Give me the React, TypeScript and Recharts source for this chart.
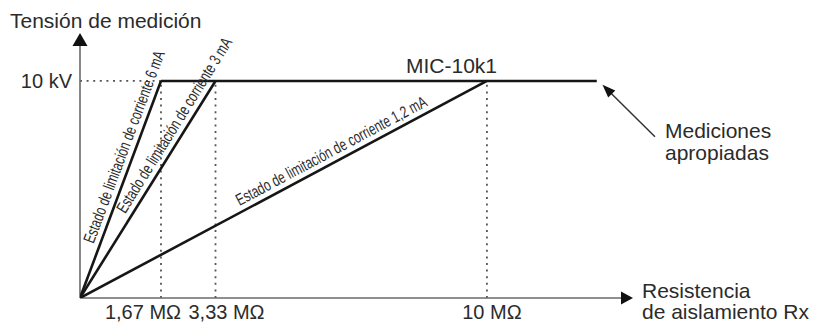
import React from 'react';
import { LineChart, Line, XAxis, YAxis, ReferenceLine, ReferenceDot } from 'recharts';

// ---- data (MΩ on x, kV on y) ----
const X_TICK_VALUES = [1.99, 3.33, 10];
const X_TICK_LABELS = ['1,67 MΩ', '3,33 MΩ', '10 MΩ'];
const Y_TICK_VALUES = [10];
const Y_TICK_LABELS = ['10 kV'];
const X_AXIS_MAX = 13.59;
const Y_AXIS_MAX = 12.21;

const LINE_6MA = [{ x: 0, y: 0 }, { x: 1.99, y: 10 }];
const LINE_3MA = [{ x: 0, y: 0 }, { x: 3.33, y: 10 }];
const LINE_1_2MA = [{ x: 0, y: 0 }, { x: 10, y: 10 }];
const LINE_MIC = [{ x: 1.99, y: 10 }, { x: 12.7, y: 10 }];

const SERIES_LABELS = [
  'Estado de limitación de corriente 6 mA',
  'Estado de limitación de corriente 3 mA',
  'Estado de limitación de corriente 1,2 mA',
];
const MIC_LABEL = 'MIC-10k1';
const MIC_LABEL_X = 9.13;
const NOTE_TEXT = ['Mediciones', 'apropiadas'];
const NOTE_ARROW = [{ x: 14.13, y: 7.43 }, { x: 12.84, y: 9.82 }];
const Y_TITLE = 'Tensión de medición';
const X_TITLE = ['Resistencia', 'de aislamiento Rx'];

// ---- styles ----
const FONT = '"Liberation Sans", Arial, Helvetica, sans-serif';
const TEXT_COLOR = '#2b2b2b';
const LINE_COLOR = '#161616';
const AXIS_COLOR = '#6a6a6a';
const DOT_COLOR = '#555555';
const SLOPE_LABEL_LAYOUT = [
  { start: 55, perp: 6, len: 204 },
  { start: 95, perp: 6, len: 203 },
  { start: 184, perp: 6, len: 214 },
];
const X_TICK_DX = [-18, 11, 5];

const arrowShape = (opts: { color: string; width: number; headLen: number; headW: number; headColor: string }) =>
  (p: any) => {
    const { x1, y1, x2, y2 } = p;
    const dx = x2 - x1, dy = y2 - y1;
    const L = Math.hypot(dx, dy) || 1;
    const ux = dx / L, uy = dy / L;
    const bx = x2 - ux * opts.headLen, by = y2 - uy * opts.headLen;
    const nx = -uy, ny = ux;
    const h = opts.headW / 2;
    return (
      <g>
        <line x1={x1} y1={y1} x2={bx + ux * 1} y2={by + uy * 1} stroke={opts.color} strokeWidth={opts.width} />
        <polygon
          points={`${x2},${y2} ${bx + nx * h},${by + ny * h} ${bx - nx * h},${by - ny * h}`}
          fill={opts.headColor}
        />
      </g>
    );
  };

const slopeLabelShape = (text: string, layout: { start: number; perp: number; len: number }) => (p: any) => {
  const { x1, y1, x2, y2 } = p;
  const ang = (Math.atan2(y2 - y1, x2 - x1) * 180) / Math.PI;
  return (
    <g transform={`translate(${x1},${y1}) rotate(${ang})`}>
      <text
        x={layout.start}
        y={-layout.perp}
        fontFamily={FONT}
        fontSize={16.5}
        fill={TEXT_COLOR}
        textLength={layout.len}
        lengthAdjust="spacingAndGlyphs"
      >
        {text}
      </text>
    </g>
  );
};

const renderXTick = (props: any) => {
  const { x, y, payload } = props;
  const i = X_TICK_VALUES.indexOf(payload.value);
  return (
    <text x={x + (X_TICK_DX[i] || 0)} y={y + 21} textAnchor="middle" fontFamily={FONT} fontSize={20} fill={TEXT_COLOR}>
      {X_TICK_LABELS[i]}
    </text>
  );
};

const renderYTick = (props: any) => {
  const { x, y, payload } = props;
  const i = Y_TICK_VALUES.indexOf(payload.value);
  return (
    <text x={x - 8} y={y + 7} textAnchor="end" fontFamily={FONT} fontSize={20} fill={TEXT_COLOR}>
      {Y_TICK_LABELS[i]}
    </text>
  );
};

export default function App() {
  const dotted = { stroke: DOT_COLOR, strokeWidth: 1.8, strokeDasharray: '2 4.6', ifOverflow: 'visible' as const };
  return (
    <div style={{ position: 'absolute', left: 0, top: 0, background: '#fff' }}>
      <LineChart width={815} height={323} margin={{ top: 33, right: 182, bottom: 0, left: 0 }}>
        <XAxis
          type="number"
          dataKey="x"
          domain={[0, X_AXIS_MAX]}
          ticks={X_TICK_VALUES}
          height={25}
          axisLine={false}
          tickLine={false}
          tickSize={0}
          tickMargin={0}
          tick={renderXTick}
          interval={0}
          allowDataOverflow
        />
        <YAxis
          type="number"
          dataKey="y"
          domain={[0, Y_AXIS_MAX]}
          ticks={Y_TICK_VALUES}
          width={80}
          axisLine={false}
          tickLine={false}
          tickSize={0}
          tickMargin={0}
          tick={renderYTick}
          interval={0}
          allowDataOverflow
        />

        {/* dotted guides */}
        <ReferenceLine segment={[{ x: 0, y: 10 }, { x: X_TICK_VALUES[0], y: 10 }]} {...dotted} />
        {X_TICK_VALUES.map((v) => (
          <ReferenceLine key={v} segment={[{ x: v, y: 0 }, { x: v, y: 10 }]} {...dotted} />
        ))}

        {/* axes with arrows */}
        <ReferenceLine
          segment={[{ x: 0, y: 0 }, { x: X_AXIS_MAX, y: 0 }]}
          ifOverflow="visible"
          shape={arrowShape({ color: AXIS_COLOR, width: 1.6, headLen: 12, headW: 13, headColor: '#111' })}
        />
        <ReferenceLine
          segment={[{ x: 0, y: 0 }, { x: 0, y: Y_AXIS_MAX }]}
          ifOverflow="visible"
          shape={arrowShape({ color: AXIS_COLOR, width: 1.6, headLen: 13, headW: 15, headColor: '#111' })}
        />

        {/* series */}
        <Line data={LINE_6MA} dataKey="y" stroke={LINE_COLOR} strokeWidth={2.6} dot={false} isAnimationActive={false} />
        <Line data={LINE_3MA} dataKey="y" stroke={LINE_COLOR} strokeWidth={2.6} dot={false} isAnimationActive={false} />
        <Line data={LINE_1_2MA} dataKey="y" stroke={LINE_COLOR} strokeWidth={2.6} dot={false} isAnimationActive={false} />
        <Line data={LINE_MIC} dataKey="y" stroke={LINE_COLOR} strokeWidth={2.6} dot={false} isAnimationActive={false} />

        {/* slanted labels */}
        {[LINE_6MA, LINE_3MA, LINE_1_2MA].map((d, i) => (
          <ReferenceLine
            key={'lbl' + i}
            segment={[d[0], d[1]]}
            ifOverflow="visible"
            shape={slopeLabelShape(SERIES_LABELS[i], SLOPE_LABEL_LAYOUT[i])}
          />
        ))}

        {/* MIC label */}
        <ReferenceDot
          x={MIC_LABEL_X}
          y={10}
          ifOverflow="visible"
          shape={(p: any) => (
            <text x={p.cx} y={p.cy - 8} textAnchor="middle" fontFamily={FONT} fontSize={21} fill={TEXT_COLOR}>
              {MIC_LABEL}
            </text>
          )}
        />

        {/* note arrow + text */}
        <ReferenceLine
          segment={NOTE_ARROW}
          ifOverflow="visible"
          shape={(p: any) => (
            <g>
              {arrowShape({ color: '#333', width: 1.5, headLen: 13, headW: 10, headColor: '#111' })(p)}
              <text x={p.x1 + 10} y={p.y1 + 1} fontFamily={FONT} fontSize={21} fill={TEXT_COLOR}>
                {NOTE_TEXT[0]}
              </text>
              <text x={p.x1 + 10} y={p.y1 + 23} fontFamily={FONT} fontSize={21} fill={TEXT_COLOR}>
                {NOTE_TEXT[1]}
              </text>
            </g>
          )}
        />

        {/* axis titles */}
        <ReferenceDot
          x={X_AXIS_MAX}
          y={0}
          ifOverflow="visible"
          shape={(p: any) => (
            <g>
              <text x={p.cx + 9} y={p.cy} fontFamily={FONT} fontSize={21} fill={TEXT_COLOR}>
                {X_TITLE[0]}
              </text>
              <text x={p.cx + 9} y={p.cy + 21} fontFamily={FONT} fontSize={21} fill={TEXT_COLOR}>
                {X_TITLE[1]}
              </text>
            </g>
          )}
        />
        <ReferenceDot
          x={0}
          y={Y_AXIS_MAX}
          ifOverflow="visible"
          shape={(p: any) => (
            <text x={p.cx - 70} y={p.cy - 5} fontFamily={FONT} fontSize={21} fill={TEXT_COLOR}>
              {Y_TITLE}
            </text>
          )}
        />
      </LineChart>
    </div>
  );
}
